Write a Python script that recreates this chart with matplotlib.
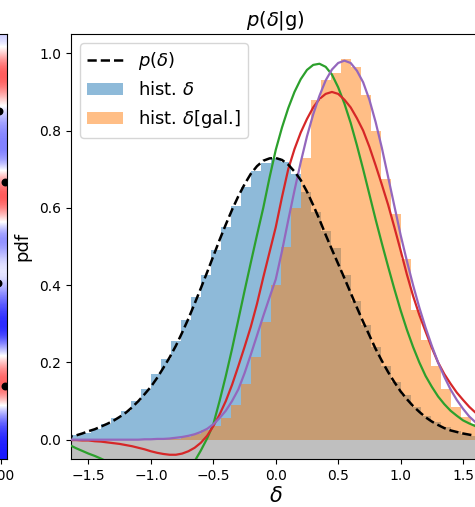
import numpy as np
import matplotlib
matplotlib.use("Agg")
import matplotlib.pyplot as plt

# ---- data -------------------------------------------------------------
# histogram bins (centres, width 0.08)
bin_centers = [-1.68, -1.60, -1.52, -1.44, -1.36, -1.28, -1.20, -1.12, -1.04,
               -0.96, -0.88, -0.80, -0.72, -0.64, -0.56, -0.48, -0.40, -0.32,
               -0.24, -0.16, -0.08, 0.00, 0.08, 0.16, 0.24, 0.32, 0.40, 0.48,
               0.56, 0.64, 0.72, 0.80, 0.88, 0.96, 1.04, 1.12, 1.20, 1.28,
               1.36, 1.44, 1.52, 1.60, 1.68]
bin_width = 0.08

hist_delta = [0.007, 0.011, 0.018, 0.027, 0.040, 0.055, 0.075, 0.100, 0.130,
              0.170, 0.210, 0.255, 0.310, 0.370, 0.425, 0.490, 0.550, 0.606,
              0.653, 0.696, 0.717, 0.729, 0.720, 0.687, 0.640, 0.590, 0.540,
              0.495, 0.425, 0.360, 0.296, 0.240, 0.190, 0.150, 0.115, 0.085,
              0.062, 0.045, 0.032, 0.022, 0.015, 0.010, 0.007]

hist_delta_gal = [0.0, 0.0, 0.0, 0.0, 0.0, 0.0, 0.0, 0.0, 0.001, 0.001, 0.002,
                  0.003, 0.006, 0.015, 0.024, 0.035, 0.055, 0.090, 0.145,
                  0.215, 0.305, 0.400, 0.500, 0.600, 0.730, 0.880, 0.930,
                  0.950, 0.985, 0.965, 0.893, 0.800, 0.675, 0.585, 0.468,
                  0.335, 0.258, 0.190, 0.130, 0.085, 0.060, 0.040, 0.030]

# model curves sampled on a delta grid
delta_grid = [-1.70, -1.65, -1.60, -1.55, -1.50, -1.45, -1.40, -1.35, -1.30,
              -1.25, -1.20, -1.15, -1.10, -1.05, -1.00, -0.95, -0.90, -0.85,
              -0.80, -0.75, -0.70, -0.65, -0.60, -0.55, -0.50, -0.45, -0.40,
              -0.35, -0.30, -0.25, -0.20, -0.15, -0.10, -0.05, 0.00, 0.05,
              0.10, 0.15, 0.20, 0.25, 0.30, 0.35, 0.40, 0.45, 0.50, 0.55,
              0.60, 0.65, 0.70, 0.75, 0.80, 0.85, 0.90, 0.95, 1.00, 1.05,
              1.10, 1.15, 1.20, 1.25, 1.30, 1.35, 1.40, 1.45, 1.50, 1.55,
              1.60, 1.65, 1.70]

p_delta = [0.006, 0.008, 0.011, 0.016, 0.022, 0.027, 0.034, 0.041, 0.049,
           0.059, 0.070, 0.084, 0.100, 0.118, 0.137, 0.160, 0.186, 0.213,
           0.243, 0.277, 0.313, 0.352, 0.392, 0.433, 0.475, 0.517, 0.557,
           0.595, 0.630, 0.661, 0.688, 0.708, 0.722, 0.728, 0.729, 0.724,
           0.712, 0.694, 0.672, 0.642, 0.607, 0.570, 0.530, 0.492, 0.455,
           0.418, 0.380, 0.342, 0.305, 0.270, 0.235, 0.204, 0.175, 0.149,
           0.125, 0.105, 0.087, 0.072, 0.058, 0.047, 0.038, 0.030, 0.024,
           0.020, 0.016, 0.013, 0.010, 0.008, 0.006]

model_green = [-0.005, -0.014, -0.022, -0.029, -0.036, -0.042, -0.049, -0.057,
               -0.065, -0.073, -0.081, -0.088, -0.095, -0.100, -0.105, -0.108,
               -0.110, -0.109, -0.105, -0.095, -0.080, -0.056, -0.028, 0.003,
               0.040, 0.100, 0.165, 0.235, 0.310, 0.385, 0.458, 0.530, 0.600,
               0.678, 0.750, 0.808, 0.858, 0.900, 0.933, 0.957, 0.970, 0.973,
               0.965, 0.945, 0.912, 0.870, 0.820, 0.762, 0.700, 0.635, 0.570,
               0.508, 0.448, 0.390, 0.335, 0.285, 0.240, 0.200, 0.165, 0.137,
               0.112, 0.092, 0.075, 0.062, 0.050, 0.042, 0.035, 0.029, 0.025]

model_red = [0.000, -0.001, -0.001, -0.002, -0.002, -0.004, -0.005, -0.007,
             -0.009, -0.011, -0.014, -0.017, -0.021, -0.025, -0.030, -0.034,
             -0.037, -0.039, -0.039, -0.036, -0.030, -0.021, -0.008, 0.010,
             0.035, 0.065, 0.100, 0.142, 0.190, 0.240, 0.292, 0.352, 0.420,
             0.485, 0.550, 0.628, 0.700, 0.752, 0.795, 0.830, 0.860, 0.882,
             0.895, 0.900, 0.895, 0.880, 0.860, 0.832, 0.800, 0.758, 0.710,
             0.660, 0.608, 0.550, 0.490, 0.428, 0.372, 0.323, 0.280, 0.238,
             0.200, 0.170, 0.145, 0.122, 0.103, 0.085, 0.070, 0.057, 0.047]

model_purple = [0.000, 0.000, 0.000, 0.000, 0.000, 0.000, 0.000, 0.000,
                0.000, 0.000, 0.000, 0.000, 0.000, 0.001, 0.001, 0.002,
                0.002, 0.003, 0.005, 0.007, 0.010, 0.014, 0.020, 0.028,
                0.040, 0.056, 0.075, 0.100, 0.130, 0.172, 0.220, 0.270,
                0.320, 0.368, 0.415, 0.488, 0.568, 0.645, 0.718, 0.785,
                0.842, 0.890, 0.930, 0.958, 0.975, 0.981, 0.975, 0.955,
                0.925, 0.880, 0.822, 0.755, 0.680, 0.605, 0.530, 0.463,
                0.400, 0.342, 0.290, 0.243, 0.200, 0.163, 0.130, 0.103,
                0.080, 0.060, 0.045, 0.033, 0.025]

# neighbouring density-field panel: one strip of field values (top -> bottom)
field_strip = [[-0.3, -0.2], [0.5, 0.6], [0.8, 0.7], [0.2, 0.1], [-0.3, -0.4],
               [-0.5, -0.5], [-0.6, -0.5], [0.3, 0.4], [0.8, 0.8], [0.1, 0.2],
               [-0.6, -0.6], [-0.3, -0.2], [0.05, 0.0], [-0.4, -0.5],
               [-0.8, -0.8], [-0.9, -0.9], [-0.2, -0.1], [0.5, 0.6],
               [0.6, 0.7], [-0.3, -0.3], [-0.8, -0.8], [-0.9, -0.9]]
field_extent = (150.0, 203.0, 0.0, 210.0)
halo_x = [199.0, 202.0, 198.5, 202.0]
halo_y = [172.0, 137.0, 87.0, 36.0]

# ---- figure -----------------------------------------------------------
W, H = 475, 507
fig = plt.figure(figsize=(W / 100, H / 100), dpi=100)

# neighbouring panel (only its right edge is in frame)
axl = fig.add_axes([-420 / W, (H - 459) / H, 427 / W, 425 / H])
axl.imshow(field_strip, cmap="bwr", vmin=-1, vmax=1, aspect="auto",
           extent=field_extent, interpolation="bicubic")
axl.scatter(halo_x, halo_y, s=22, color="black", zorder=3)
axl.set_xlim(0, 203)
axl.set_ylim(0, 210)
axl.set_xticks([200])
axl.set_xticklabels(["200"], fontsize=10)
axl.set_yticks([])

# main panel
ax = fig.add_axes([71 / W, (H - 459) / H, 409.5 / W, 425 / H])

ax.axhspan(-0.05, 0.0, color="0.75", zorder=0, lw=0)
ax.bar(bin_centers, hist_delta, width=bin_width, color="C0", alpha=0.5,
       lw=0, label=r"hist. $\delta$", zorder=1)
ax.bar(bin_centers, hist_delta_gal, width=bin_width, color="C1", alpha=0.5,
       lw=0, label=r"hist. $\delta$[gal.]", zorder=1)

ax.plot(delta_grid, model_green, color="C2", lw=1.6, zorder=3)
ax.plot(delta_grid, model_red, color="C3", lw=1.6, zorder=3)
ax.plot(delta_grid, model_purple, color="C4", lw=1.6, zorder=3)
ax.plot(delta_grid, p_delta, "k--", lw=1.8, label=r"$p(\delta)$", zorder=4)

ax.set_xlim(-1.64, 1.64)
ax.set_ylim(-0.05, 1.05)
ax.set_xticks([-1.5, -1.0, -0.5, 0.0, 0.5, 1.0, 1.5])
ax.set_yticks([0.0, 0.2, 0.4, 0.6, 0.8, 1.0])
ax.tick_params(labelsize=10)
ax.set_xlabel(r"$\delta$", fontsize=15, labelpad=2)
ax.set_ylabel("pdf", fontsize=13, labelpad=6)
ax.set_title(r"$p(\delta|{\rm g})$", fontsize=14)

handles, labels = ax.get_legend_handles_labels()
order = [labels.index(r"$p(\delta)$"), labels.index(r"hist. $\delta$"),
         labels.index(r"hist. $\delta$[gal.]")]
ax.legend([handles[i] for i in order], [labels[i] for i in order],
          loc="upper left", fontsize=13)

fig.savefig("out.png", dpi=100)
